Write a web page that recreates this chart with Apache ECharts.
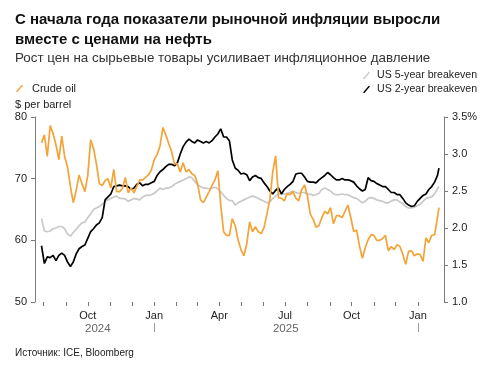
<!DOCTYPE html>
<html>
<head>
<meta charset="utf-8">
<script src="https://cdn.jsdelivr.net/npm/echarts@6/dist/echarts.min.js"></script>
<style>
html,body{margin:0;padding:0;background:#fff;}
#chart{width:484px;height:366px;}
</style>
</head>
<body>
<div id="chart"></div>
<script>
// ---- Data ----
const dates = [
'2024-07-29','2024-08-02','2024-08-06','2024-08-10','2024-08-14','2024-08-18','2024-08-22','2024-08-26','2024-08-30','2024-09-03',
'2024-09-07','2024-09-11','2024-09-15','2024-09-19','2024-09-23','2024-09-27','2024-10-01','2024-10-05','2024-10-09','2024-10-13',
'2024-10-17','2024-10-21','2024-10-25','2024-10-29','2024-11-02','2024-11-06','2024-11-10','2024-11-14','2024-11-18','2024-11-22',
'2024-11-26','2024-11-30','2024-12-04','2024-12-08','2024-12-12','2024-12-16','2024-12-20','2024-12-24','2024-12-28','2025-01-01',
'2025-01-05','2025-01-09','2025-01-13','2025-01-17','2025-01-21','2025-01-25','2025-01-29','2025-02-02','2025-02-06','2025-02-10',
'2025-02-14','2025-02-18','2025-02-22','2025-02-26','2025-03-02','2025-03-06','2025-03-10','2025-03-14','2025-03-18','2025-03-22',
'2025-03-26','2025-03-30','2025-04-03','2025-04-07','2025-04-11','2025-04-15','2025-04-19','2025-04-23','2025-04-27','2025-05-01',
'2025-05-05','2025-05-09','2025-05-13','2025-05-17','2025-05-21','2025-05-25','2025-05-29','2025-06-02','2025-06-06','2025-06-10',
'2025-06-14','2025-06-18','2025-06-22','2025-06-26','2025-06-30','2025-07-04','2025-07-08','2025-07-12','2025-07-16','2025-07-20',
'2025-07-24','2025-07-28','2025-08-01','2025-08-05','2025-08-09','2025-08-13','2025-08-17','2025-08-21','2025-08-25','2025-08-29',
'2025-09-02','2025-09-06','2025-09-10','2025-09-14','2025-09-18','2025-09-22','2025-09-26','2025-09-30','2025-10-04','2025-10-08',
'2025-10-12','2025-10-16','2025-10-20','2025-10-24','2025-10-28','2025-11-01','2025-11-05','2025-11-09','2025-11-13','2025-11-17',
'2025-11-21','2025-11-25','2025-11-29','2025-12-03','2025-12-07','2025-12-11','2025-12-15','2025-12-19','2025-12-23','2025-12-27',
'2025-12-31','2026-01-04','2026-01-08','2026-01-12','2026-01-16','2026-01-20','2026-01-24','2026-01-28','2026-01-30'
];

// Crude oil, $ per barrel (left axis)
const crudeOil = [
75.8, 77.1, 73.6, 78.6, 77.3, 75.5, 73.1, 76.9, 73.6, 71.9,
68.7, 66.1, 68.1, 70.6, 69.2, 67.9, 70.5, 76.3, 74.9, 72.4,
69.2, 68.9, 69.7, 70.0, 68.5, 71.5, 67.9, 67.9, 68.4, 70.2,
67.7, 68.5, 67.7, 68.8, 69.8, 69.8, 70.2, 70.6, 71.4, 73.1,
73.9, 75.3, 78.3, 77.1, 75.7, 74.4, 72.4, 72.4, 71.1, 72.6,
71.1, 71.5, 70.8, 70.5, 69.2, 66.6, 66.1, 67.0, 67.9, 68.9,
69.8, 71.3, 65.8, 61.4, 60.8, 60.8, 63.5, 62.4, 60.1, 58.5,
57.5, 59.4, 63.0, 61.4, 62.2, 61.4, 61.1, 62.1, 64.3, 66.6,
71.1, 73.7, 66.9, 66.8, 66.4, 67.6, 67.4, 67.9, 66.8, 66.4,
68.2, 69.0, 67.2, 64.2, 63.4, 62.1, 62.4, 63.7, 64.7, 64.3,
65.3, 62.7, 64.0, 64.0, 63.7, 64.7, 65.7, 63.7, 61.4, 61.7,
59.1, 57.1, 58.8, 60.1, 60.9, 60.8, 60.0, 60.0, 60.3, 60.8,
58.3, 59.0, 58.5, 59.3, 59.0, 57.7, 56.1, 58.2, 58.3, 57.5,
57.8, 57.7, 56.6, 60.4, 59.6, 60.8, 60.9, 63.7, 65.3
];

// US 5-year breakeven, % (right axis)
const breakeven5y = [
2.13, 1.96, 1.95, 1.96, 1.99, 2.00, 2.02, 2.02, 1.99, 1.92,
1.89, 1.94, 1.98, 2.03, 2.07, 2.08, 2.14, 2.19, 2.25, 2.27,
2.29, 2.32, 2.36, 2.38, 2.40, 2.42, 2.43, 2.40, 2.40, 2.39,
2.36, 2.38, 2.40, 2.39, 2.38, 2.42, 2.44, 2.44, 2.45, 2.47,
2.50, 2.54, 2.52, 2.54, 2.54, 2.56, 2.59, 2.61, 2.63, 2.65,
2.67, 2.69, 2.68, 2.63, 2.58, 2.56, 2.54, 2.54, 2.53, 2.54,
2.55, 2.53, 2.49, 2.44, 2.40, 2.37, 2.37, 2.31, 2.34, 2.36,
2.38, 2.40, 2.42, 2.43, 2.42, 2.40, 2.38, 2.36, 2.34, 2.35,
2.40, 2.43, 2.46, 2.46, 2.46, 2.47, 2.48, 2.50, 2.48, 2.47,
2.48, 2.48, 2.45, 2.46, 2.44, 2.45, 2.47, 2.52, 2.54, 2.52,
2.50, 2.46, 2.45, 2.45, 2.46, 2.45, 2.45, 2.43, 2.41, 2.40,
2.37, 2.34, 2.36, 2.40, 2.41, 2.40, 2.38, 2.37, 2.36, 2.34,
2.34, 2.36, 2.38, 2.38, 2.35, 2.33, 2.29, 2.27, 2.27, 2.28,
2.30, 2.32, 2.36, 2.40, 2.41, 2.42, 2.46, 2.53, 2.56
];

// US 2-year breakeven, % (right axis)
const breakeven2y = [
1.76, 1.52, 1.61, 1.60, 1.63, 1.56, 1.63, 1.66, 1.63, 1.54,
1.48, 1.54, 1.65, 1.72, 1.75, 1.77, 1.86, 1.95, 1.99, 2.04,
2.07, 2.14, 2.38, 2.42, 2.46, 2.56, 2.57, 2.58, 2.57, 2.57,
2.56, 2.52, 2.54, 2.59, 2.61, 2.57, 2.59, 2.59, 2.61, 2.63,
2.71, 2.76, 2.79, 2.83, 2.86, 2.86, 2.84, 2.88, 3.00, 3.10,
3.16, 3.20, 3.17, 3.15, 3.19, 3.17, 3.15, 3.17, 3.15, 3.18,
3.23, 3.27, 3.34, 3.23, 3.23, 3.18, 2.92, 2.81, 2.78, 2.73,
2.74, 2.72, 2.64, 2.69, 2.71, 2.68, 2.67, 2.61, 2.56, 2.50,
2.46, 2.51, 2.54, 2.46, 2.52, 2.56, 2.59, 2.63, 2.73, 2.74,
2.74, 2.69, 2.63, 2.62, 2.62, 2.61, 2.65, 2.68, 2.71, 2.75,
2.72, 2.68, 2.65, 2.65, 2.67, 2.65, 2.65, 2.64, 2.62, 2.57,
2.53, 2.50, 2.52, 2.68, 2.64, 2.63, 2.60, 2.58, 2.56, 2.56,
2.52, 2.48, 2.48, 2.45, 2.45, 2.40, 2.34, 2.31, 2.29, 2.30,
2.36, 2.40, 2.44, 2.46, 2.52, 2.56, 2.62, 2.71, 2.81
];

// Axis ticks and labels
const monthTickDates = ['2024-08-01','2024-09-01','2024-10-01','2024-11-01','2024-12-01','2025-01-01',
  '2025-02-01','2025-03-01','2025-04-01','2025-05-01','2025-06-01','2025-07-01','2025-08-01',
  '2025-09-01','2025-10-01','2025-11-01','2025-12-01','2026-01-01'];
const monthLabelDates = ['2024-10-01','2025-01-01','2025-04-01','2025-07-01','2025-10-01','2026-01-01'];
const monthNames = ['Jan','Feb','Mar','Apr','May','Jun','Jul','Aug','Sep','Oct','Nov','Dec'];
const yearLabelDates = ['2024-10-15','2025-07-02'];
const yearTickDates = ['2025-01-01','2026-01-01'];

const seriesNames = ['Crude oil', 'US 5-year breakeven', 'US 2-year breakeven'];

// ---- Chart ----
function ts(s){ const p = s.split('-').map(Number); return new Date(p[0], p[1]-1, p[2]).getTime(); }
const FONT = '"Liberation Sans", Arial, Helvetica, sans-serif';
const AXIS_COLOR = '#7a7a7a';
const slash = 'path://M0,9 L7,1 L8.5,2 L1.5,10 Z';
const X_MIN = ts('2024-07-20'), X_MAX = ts('2026-02-06');

const chart = echarts.init(document.getElementById('chart'), null, {renderer: 'canvas'});
chart.setOption({
  animation: false,
  backgroundColor: '#ffffff',
  textStyle: {fontFamily: FONT},
  title: [
    {
      text: 'С начала года показатели рыночной инфляции выросли\nвместе с ценами на нефть',
      left: 10, top: 5,
      textStyle: {fontFamily: FONT, fontSize: 15, fontWeight: 'bold', color: '#111', lineHeight: 20},
      subtext: 'Рост цен на сырьевые товары усиливает инфляционное давление',
      subtextStyle: {fontFamily: FONT, fontSize: 13.4, color: '#333'},
      itemGap: 2
    },
    {
      text: '$ per barrel', left: 10, top: 94,
      textStyle: {fontFamily: FONT, fontSize: 11, fontWeight: 'normal', color: '#222'}
    },
    {
      text: 'Источник: ICE, Bloomberg', left: 10, top: 343,
      textStyle: {fontFamily: FONT, fontSize: 10, fontWeight: 'normal', color: '#222'}
    }
  ],
  legend: [
    {
      data: [seriesNames[0]], left: 11, top: 78,
      icon: slash, itemWidth: 7, itemHeight: 8,
      textStyle: {fontFamily: FONT, fontSize: 11, color: '#222', padding: [0,0,0,4]}
    },
    {
      data: [seriesNames[1], seriesNames[2]], left: 358, top: 65, orient: 'vertical', itemGap: 3,
      icon: slash, itemWidth: 7, itemHeight: 8,
      textStyle: {fontFamily: FONT, fontSize: 10.6, color: '#222', padding: [0,0,0,2]}
    }
  ],
  grid: {left: 35, right: 40, top: 117, bottom: 64, containLabel: false},
  xAxis: [
    {
      type: 'value', min: X_MIN, max: X_MAX, scale: true,
      axisLine: {show: false},
      splitLine: {show: false},
      axisTick: {show: true, length: 4, lineStyle: {color: AXIS_COLOR}, customValues: monthTickDates.map(ts)},
      axisLabel: {
        customValues: monthLabelDates.map(ts), margin: 8,
        fontFamily: FONT, fontSize: 11, color: '#222',
        formatter: v => monthNames[new Date(v).getMonth()]
      }
    },
    {
      type: 'value', min: X_MIN, max: X_MAX, scale: true,
      position: 'bottom', offset: 21,
      axisLine: {show: false},
      splitLine: {show: false},
      axisTick: {show: true, length: 9, lineStyle: {color: '#999'}, customValues: yearTickDates.map(ts)},
      axisLabel: {
        customValues: yearLabelDates.map(ts), margin: 0,
        fontFamily: FONT, fontSize: 11.5, color: '#666',
        formatter: v => String(new Date(v).getFullYear())
      }
    }
  ],
  yAxis: [
    {
      type: 'value', min: 50, max: 80, interval: 10, position: 'left',
      axisLine: {show: true, lineStyle: {color: AXIS_COLOR}},
      axisTick: {show: true, length: 4, lineStyle: {color: AXIS_COLOR}},
      splitLine: {show: false},
      axisLabel: {fontFamily: FONT, fontSize: 11, color: '#222', margin: 8}
    },
    {
      type: 'value', min: 1, max: 3.5, interval: 0.5, position: 'right',
      axisLine: {show: true, lineStyle: {color: AXIS_COLOR}},
      axisTick: {show: true, length: 4, lineStyle: {color: AXIS_COLOR}},
      splitLine: {show: false},
      axisLabel: {
        fontFamily: FONT, fontSize: 11, color: '#222', margin: 8,
        formatter: v => (Math.abs(v - 3.5) < 1e-9 ? v.toFixed(1) + '%' : v.toFixed(1))
      }
    }
  ],
  series: [
    {
      name: seriesNames[1], type: 'line', yAxisIndex: 1, showSymbol: false, silent: true,
      data: dates.map((d, i) => [ts(d), breakeven5y[i]]),
      lineStyle: {color: '#c9c9c9', width: 1.7}, itemStyle: {color: '#c9c9c9'}
    },
    {
      name: seriesNames[2], type: 'line', yAxisIndex: 1, showSymbol: false, silent: true,
      data: dates.map((d, i) => [ts(d), breakeven2y[i]]),
      lineStyle: {color: '#000000', width: 1.7}, itemStyle: {color: '#000000'}
    },
    {
      name: seriesNames[0], type: 'line', yAxisIndex: 0, showSymbol: false, silent: true,
      data: dates.map((d, i) => [ts(d), crudeOil[i]]),
      lineStyle: {color: '#f4a337', width: 1.7}, itemStyle: {color: '#f4a337'}
    }
  ]
});
</script>
</body>
</html>
